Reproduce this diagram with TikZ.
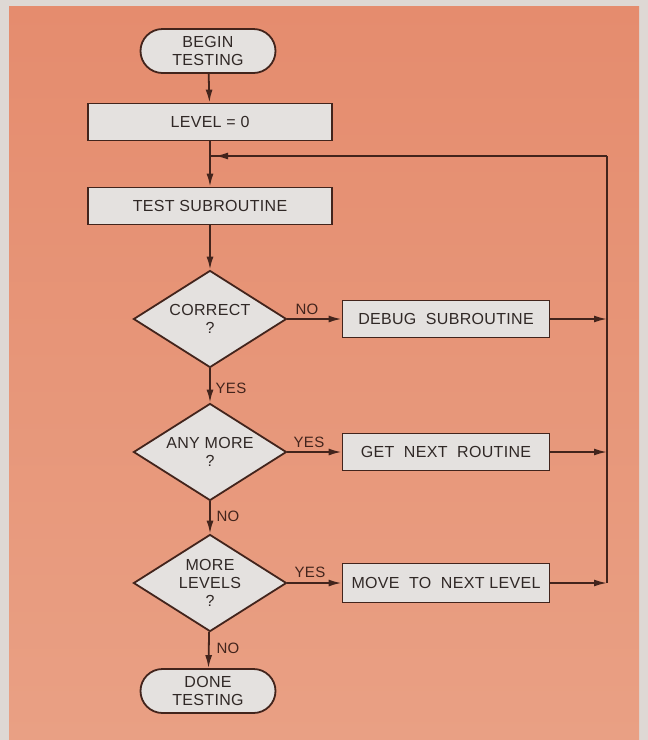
\documentclass[tikz,border=0pt]{standalone}
\usepackage{fontspec}
\setmainfont{Liberation Sans}[LetterSpace=2]
\usetikzlibrary{shapes.geometric,arrows.meta,decorations.markings}
\definecolor{frame}{RGB}{222,216,212}
\definecolor{bgtop}{RGB}{229,140,110}
\definecolor{bgbot}{RGB}{233,160,132}
\definecolor{ink}{RGB}{66,36,28}
\definecolor{txt}{RGB}{48,40,38}
\definecolor{card}{RGB}{228,225,223}
\begin{document}
\begin{tikzpicture}[x=1pt,y=-1pt,line width=1.8pt,draw=ink,
  every node/.style={font=\fontsize{16}{18}\selectfont,text=txt},
  box/.style={draw=ink,fill=card,minimum height=37pt,inner sep=0pt},
  term/.style={box,rounded corners=22pt,minimum width=135pt,minimum height=44pt,align=center},
  dec/.style={draw=ink,fill=card,diamond,aspect=1.58,minimum width=153pt,minimum height=97pt,inner sep=0pt,align=center},
  lab/.style={font=\fontsize{15}{16}\selectfont,text=ink},
  tipat/.style={postaction={decorate},decoration={markings,mark=at position #1 with {\arrow{Latex[length=13pt,width=7pt]}}}},
  >={Latex[length=13pt,width=7pt]}]
\useasboundingbox (0,0) rectangle (648,740);
\fill[frame] (0,0) rectangle (648,740);
\shade[top color=bgtop,bottom color=bgbot] (9,6) rectangle (639,740);
% main column
\node[term] (begin) at (208,51) {BEGIN\\TESTING};
\node[box,minimum width=244pt] (level) at (210,122) {LEVEL = 0};
\coordinate (join) at (210,156);
\node[box,minimum width=244pt] (test) at (210,206) {TEST SUBROUTINE};
\node[dec] (correct) at (210,319) {CORRECT\\?};
\node[dec] (anymore) at (210,452) {ANY MORE\\?};
\node[dec] (morelev) at (210,583) {MORE\\LEVELS\\?};
\node[term] (done) at (208,691) {DONE\\TESTING};
% side boxes
\node[box,minimum width=207pt] (debug) at (446,319) {DEBUG\ \ SUBROUTINE};
\node[box,minimum width=207pt] (getnext) at (446,452) {GET\ \ NEXT\ \ ROUTINE};
\node[box,minimum width=207pt,minimum height=39pt] (move) at (446,583) {MOVE\ \ TO\ \ NEXT LEVEL};
\coordinate (top) at (607,156);
\coordinate (bot) at (607,583);
% labels
\node[lab] (no1) at (307,309) {NO};
\node[lab] (yes1) at (231,388) {YES};
\node[lab] (yes2) at (309,442) {YES};
\node[lab] (no2) at (228,516) {NO};
\node[lab] (yes3) at (310,572) {YES};
\node[lab] (no3) at (228,648) {NO};
% connectors
\draw[->] (begin) -- (level); \draw (level) -- (join); \draw[->] (join) -- (test);
\draw[->] (test) -- (correct); \draw[->] (correct) -- (anymore);
\draw[->] (anymore) -- (morelev); \draw[->] (morelev) -- (done);
\draw[->] (correct) -- (debug); \draw[->] (anymore) -- (getnext); \draw[->] (morelev) -- (move);
\draw[->] (debug) -- (debug -| top); \draw[->] (getnext) -- (getnext -| top); \draw[->] (move) -- (bot);
\draw (bot) -- (top); \draw[tipat=-5pt] (top) -- (join);
\end{tikzpicture}
\end{document}
